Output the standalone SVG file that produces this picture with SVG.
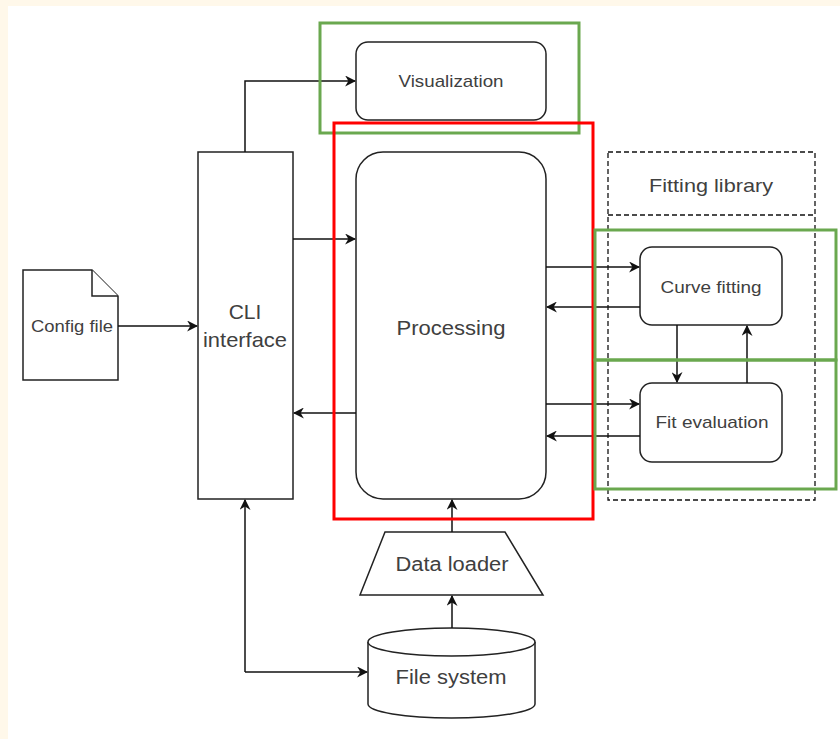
<svg xmlns="http://www.w3.org/2000/svg" width="840" height="739" viewBox="0 0 840 739">
<style>
.n{fill:#fff;stroke:#222;stroke-width:1.5}
.t{font-family:"Liberation Sans",Arial,sans-serif;fill:#404040;text-anchor:middle;dominant-baseline:central}
.c{fill:none;stroke:#111;stroke-width:1.5}
.g{fill:none;stroke:#6aa84f;stroke-width:3}
.d{fill:none;stroke:#111;stroke-width:1.3;stroke-dasharray:5 3}
</style>
<defs>
<marker id="a" viewBox="0 0 10 10" refX="9" refY="5" markerWidth="11" markerHeight="11" markerUnits="userSpaceOnUse" orient="auto">
<path d="M0,0 L10,5 L0,10 L3,5 z" fill="#111"/>
</marker>
</defs>
<rect width="840" height="739" fill="#fff8ea"/>
<rect x="8" y="6" width="832" height="733" fill="#fff"/>
<g id="fitting-library">
<rect class="d" x="608" y="152" width="207" height="348"/>
<line class="d" x1="608" y1="215" x2="815" y2="215"/>
<text class="t" x="711" y="185" font-size="19" textLength="124" lengthAdjust="spacingAndGlyphs">Fitting library</text>
</g>
<g id="config-file">
<path class="n" d="M23,270 H92 L118,296 V380 H23 Z"/>
<path class="n" d="M92,270 V296 H118" fill="none"/>
<text class="t" x="72" y="326" font-size="16" textLength="82" lengthAdjust="spacingAndGlyphs">Config file</text>
</g>
<g id="cli">
<rect class="n" x="198" y="152" width="95" height="347"/>
<text class="t" x="245" y="311" font-size="21">CLI</text>
<text class="t" x="245" y="339" font-size="21" textLength="84" lengthAdjust="spacingAndGlyphs">interface</text>
</g>
<g id="visualization">
<rect class="n" x="356" y="42" width="190" height="78" rx="12"/>
<text class="t" x="451" y="81" font-size="17" textLength="105" lengthAdjust="spacingAndGlyphs">Visualization</text>
</g>
<g id="processing">
<rect class="n" x="356" y="152" width="190" height="347" rx="27"/>
<text class="t" x="451" y="327" font-size="21" textLength="109" lengthAdjust="spacingAndGlyphs">Processing</text>
</g>
<g id="curve-fitting">
<rect class="n" x="640" y="247" width="142" height="78" rx="12"/>
<text class="t" x="711" y="287" font-size="17" textLength="101" lengthAdjust="spacingAndGlyphs">Curve fitting</text>
</g>
<g id="fit-evaluation">
<rect class="n" x="640" y="383" width="142" height="79" rx="12"/>
<text class="t" x="712" y="422" font-size="17" textLength="113" lengthAdjust="spacingAndGlyphs">Fit evaluation</text>
</g>
<g id="data-loader">
<path class="n" d="M385,532 H505 L543,595 H360 Z"/>
<text class="t" x="452" y="564" font-size="20" textLength="113" lengthAdjust="spacingAndGlyphs">Data loader</text>
</g>
<g id="file-system">
<path class="n" d="M368,642 A83.5,14 0 0 1 535,642 V704 A83.5,14 0 0 1 368,704 Z"/>
<path class="n" d="M368,642 A83.5,14 0 0 0 535,642" fill="none"/>
<text class="t" x="451" y="676" font-size="21" textLength="111" lengthAdjust="spacingAndGlyphs">File system</text>
</g>
<g id="connectors">
<path class="c" d="M118,326 H197" marker-end="url(#a)"/>
<path class="c" d="M245,152 V81 H355" marker-end="url(#a)"/>
<path class="c" d="M293,239 H355" marker-end="url(#a)"/>
<path class="c" d="M356,413 H294" marker-end="url(#a)"/>
<path class="c" d="M245,672 V500" marker-end="url(#a)"/>
<path class="c" d="M245,672 H367" marker-end="url(#a)"/>
<path class="c" d="M546,267 H639" marker-end="url(#a)"/>
<path class="c" d="M640,307 H547" marker-end="url(#a)"/>
<path class="c" d="M546,404 H639" marker-end="url(#a)"/>
<path class="c" d="M640,436 H547" marker-end="url(#a)"/>
<path class="c" d="M677,325 V382" marker-end="url(#a)"/>
<path class="c" d="M747,383 V326" marker-end="url(#a)"/>
<path class="c" d="M452,532 V500" marker-end="url(#a)"/>
<path class="c" d="M452,628 V596" marker-end="url(#a)"/>
</g>
<g id="highlights">
<rect class="g" x="320" y="23" width="259" height="110"/>
<rect x="334" y="123" width="259" height="396" fill="none" stroke="#ff0000" stroke-width="3"/>
<rect class="g" x="595" y="230" width="241" height="130"/>
<rect class="g" x="595" y="360" width="241" height="129"/>
</g>
</svg>
